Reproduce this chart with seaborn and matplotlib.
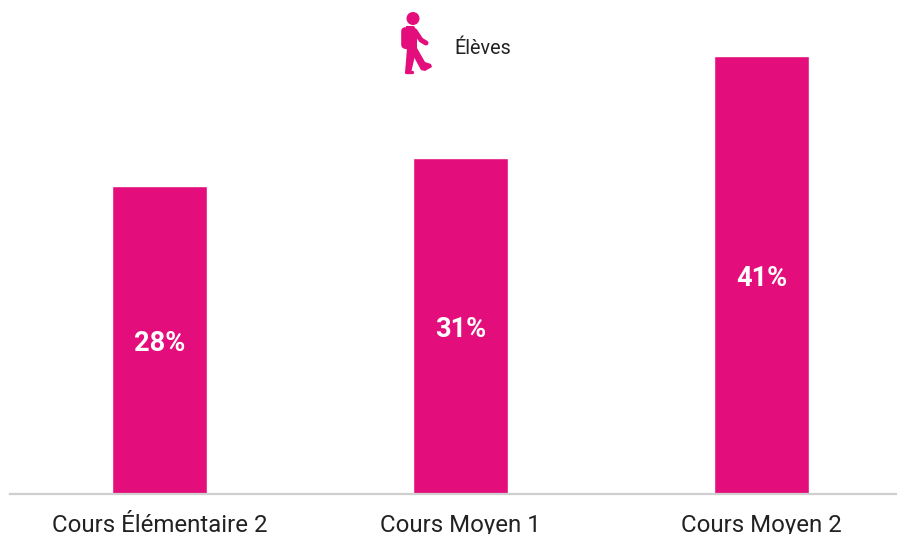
import matplotlib
matplotlib.use('Agg')
import matplotlib.pyplot as plt
from matplotlib.lines import Line2D
from matplotlib.patches import Circle, Polygon
import pandas as pd
import seaborn as sns

# values
categories = ['Cours Élémentaire 2', 'Cours Moyen 1', 'Cours Moyen 2']
bar_heights = [28.8, 31.4, 41.0]
bar_labels = ['28%', '31%', '41%']
legend_label = 'Élèves'

PINK = '#e30e7c'
W, H = 897, 534

sns.set_theme(style='white')
plt.rcParams['font.family'] = ['Roboto', 'DejaVu Sans']

df = pd.DataFrame({'niveau': categories, 'part': bar_heights})

fig = plt.figure(figsize=(W / 100, H / 100), dpi=100)
ax = fig.add_axes([10 / W, (H - 493.5) / H, 887 / W, 493.5 / H])

sns.barplot(data=df, x='niveau', y='part', color=PINK, saturation=1,
            width=0.3165, ax=ax)

ax.set_xlim(-0.4965, 2.4500)
ax.set_ylim(0, 46.25)
ax.set_xlabel('')
ax.set_ylabel('')
ax.set_yticks([])
ax.tick_params(axis='x', length=0, pad=15, labelsize=17.3, labelcolor='#222222')
sns.despine(ax=ax, left=True)
ax.spines['bottom'].set_color('#cfcfcf')
ax.spines['bottom'].set_linewidth(1.6)

# percentages in the middle of the bars
for i, (h, lab) in enumerate(zip(bar_heights, bar_labels)):
    ax.text(i, h / 2 - 0.35, lab, ha='center', va='center', color='white',
            fontsize=19.6, fontweight='bold')

# legend: walking figure + label, drawn in pixel coords
def px(x, y):
    return x / W, 1 - y / H

def limb(points, lw):
    xs, ys = zip(*[px(*p) for p in points])
    fig.add_artist(Line2D(xs, ys, color=PINK, lw=lw, solid_capstyle='round',
                          solid_joinstyle='round', transform=fig.transFigure))

def shape(points):
    fig.add_artist(Polygon([px(*p) for p in points], closed=True, color=PINK, lw=0,
                           transform=fig.transFigure))

fig.add_artist(Circle((413, H - 18.5), 5.8, color=PINK, transform=None))
# backpack and torso
limb([(405, 31), (405, 45)], 5.5)
shape([(406, 26), (414, 26), (417, 31), (417, 50), (408, 50), (404, 48)])
# arm
limb([(415, 31), (421, 40), (426, 43)], 3.6)
# legs
shape([(407, 48), (417, 48), (414, 60), (411, 73), (405, 73)])
limb([(406, 72), (412, 72)], 2.4)
shape([(409, 48), (417, 48), (425, 62), (431, 64), (432, 67), (425, 71), (421, 70)])

fig.text(*px(454.5, 48.5), legend_label, ha='left', va='center', fontsize=14.2, color='#222222')

fig.savefig('out.png', dpi=100)
